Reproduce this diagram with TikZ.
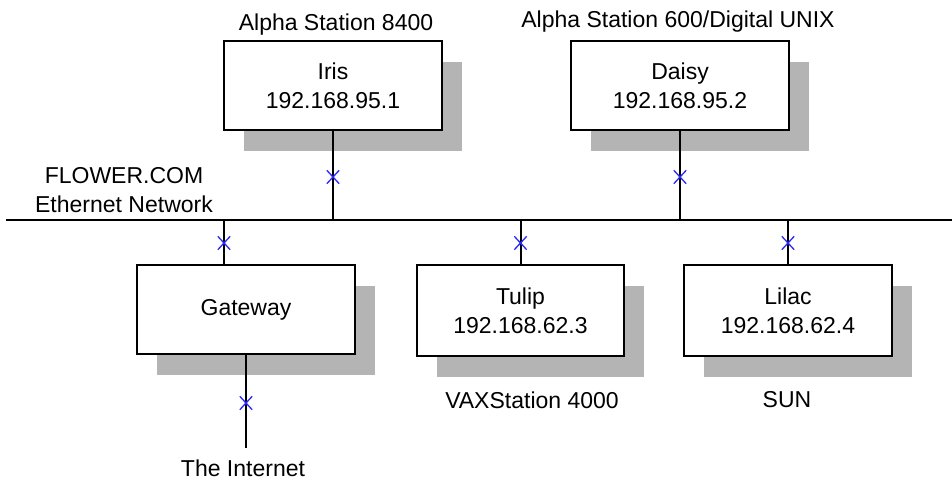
\documentclass[tikz,border=0pt]{standalone}
\usepackage{fontspec}
\setmainfont{Liberation Sans}
\usetikzlibrary{shadows,shapes.misc}
\definecolor{shadowgray}{RGB}{180,180,180}
\definecolor{xblue}{RGB}{40,40,255}
\begin{document}
\begin{tikzpicture}[x=1pt,y=-1pt,
  host/.style={draw=black, line width=2pt, fill=white, minimum width=218pt, minimum height=89pt,
    align=center, inner sep=0pt, font=\fontsize{23}{29}\selectfont,
    general shadow={fill=shadowgray, shadow xshift=20pt, shadow yshift=-21pt}},
  tap/.style={cross out, draw=xblue, line width=1.3pt, minimum width=11pt, minimum height=12pt, inner sep=0pt},
  lbl/.style={font=\fontsize{23}{29}\selectfont, inner sep=0pt, align=center},
  wire/.style={line width=2pt}]
\useasboundingbox (0,0) rectangle (952,480);
% hosts
\node[host] (iris) at (333,85.5) {Iris\\192.168.95.1};
\node[host] (daisy) at (680,85.5) {Daisy\\192.168.95.2};
\node[host] (gw) at (246,309.5) {Gateway};
\node[host, minimum width=207pt, minimum height=91pt] (tulip) at (520.5,310.5) {Tulip\\192.168.62.3};
\node[host, minimum width=208pt, minimum height=91pt] (lilac) at (788,310.5) {Lilac\\192.168.62.4};
% labels
\node[lbl] (irisl) at (336,25) {Alpha Station 8400};
\node[lbl] (daisyl) at (678,22) {Alpha Station 600/Digital UNIX};
\node[lbl] (netl) at (124,190) {FLOWER.COM\\Ethernet Network};
\node[lbl] (inetl) at (243,468) {The Internet};
\node[lbl] (tulipl) at (532,400) {VAXStation 4000};
\node[lbl] (lilacl) at (787,400) {SUN};
% bus
\coordinate (busL) at (6,220);
\coordinate (busR) at (952,220);
\coordinate (bIris) at (333,220);
\coordinate (bDaisy) at (680,220);
\coordinate (bGw) at (224,220);
\coordinate (bTulip) at (520.5,220);
\coordinate (bLilac) at (788,220);
\coordinate (inet) at (246,448);
\draw[wire] (busL) -- (busR);
\draw[wire] (iris.south) -- (bIris);
\draw[wire] (daisy.south) -- (bDaisy);
\draw[wire] (bGw) -- (bGw |- gw.north);
\draw[wire] (bTulip) -- (tulip.north);
\draw[wire] (bLilac) -- (lilac.north);
\draw[wire] (gw.south) -- (inet);
% taps
\node[tap] (xIris) at (333,177) {};
\node[tap] (xDaisy) at (680,177) {};
\node[tap] (xGw) at (224,243) {};
\node[tap] (xTulip) at (520.5,243) {};
\node[tap] (xLilac) at (788,243) {};
\node[tap] (xInet) at (246,403) {};
\end{tikzpicture}
\end{document}
